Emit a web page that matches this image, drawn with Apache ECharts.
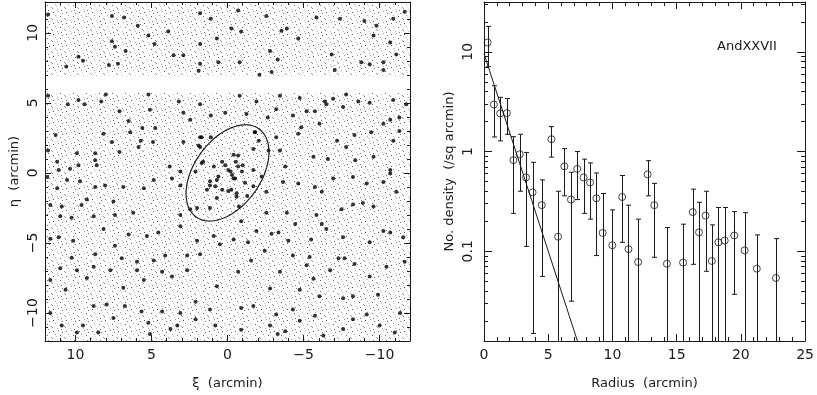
<!DOCTYPE html>
<html>
<head>
<meta charset="utf-8">
<script src="https://cdn.jsdelivr.net/npm/echarts@6/dist/echarts.min.js"></script>
<style>
html,body{margin:0;padding:0;background:#fff}
#main{width:817px;height:395px}
</style>
</head>
<body>
<div id="main"></div>
<script>
// AndXXVII - star map (left) and radial density profile (right)
var FONT = 'DejaVu Sans';
var INK = '#1a1a1a';

// ---- left panel: star map (xi, eta in arcmin) ----
var xiTicks = [10, 5, 0, -5, -10];
var etaTicks = [-10, -5, 0, 5, 10];
var mapMinor = [-11,-9,-8,-7,-6,-4,-3,-2,-1,1,2,3,4,6,7,8,9,11];
// eta bands covered by the survey (faint stars fill these)
var coverBands = [[-12, 5.7], [6.9, 12.2]];
// brighter stars [xi, eta]
var brightStars = [
  [11.8,11.3],[7.6,11.2],[6.8,11.1],[5.9,10.5],[5.2,9.8],[7.6,9.4],[4.8,9.2],[3.9,10.1],[1.8,11.4],[1.1,11.0],
  [1.8,9.2],[0.7,9.6],[7.4,9.0],[6.7,8.7],[9.8,8.3],[9.5,8.0],[3.55,8.4],[2.9,8.4],[1.8,7.8],[0.6,7.9],
  [7.8,7.7],[7.2,7.8],[10.6,7.6],[1.9,7.3],[11.8,5.5],[9.8,5.2],[8.0,5.6],[8.3,5.1],[5.2,5.6],[10.5,4.9],
  [9.4,4.9],[3.2,5.1],[1.8,4.9],[5.1,4.5],[7.1,4.4],[2.9,4.3],[1.1,4.1],[6.5,3.7],[4.75,3.2],[5.6,3.2],
  [2.45,3.8],[0.15,4.3],[11.3,2.7],[8.15,2.8],[7.6,2.2],[6.4,2.9],[1.8,2.55],[5.7,2.3],[4.9,2.2],[2.9,2.2],
  [1.1,2.55],[11.8,1.6],[9.9,1.4],[8.7,1.4],[5.85,1.85],[7.1,1.5],[1.8,1.85],[8.7,0.9],[11.2,0.8],[9.8,0.55],
  [8.6,0.55],[3.8,0.45],[2.1,0.1],[1.7,0.7],[0.9,0.45],[10.35,0.3],[11.1,0.2],[3.1,0.1],
  [-0.7,11.6],[-0.26,10.3],[-0.9,10.1],[-3.55,10.15],[-3.9,10.3],[-5.85,11.1],[-7.4,11.0],[-2.55,11.2],[-9.0,10.85],[-9.8,10.5],
  [-10.9,11.0],[-11.65,11.5],[-9.6,9.8],[-4.65,9.6],[-2.8,8.7],[-3.3,8.1],[-0.8,7.9],[-6.85,8.45],[-8.8,7.9],[-9.35,7.75],
  [-10.25,7.9],[-10.25,7.35],[-11.1,8.45],[-10.7,9.3],[-2.1,7.0],[-2.9,7.2],[-7.05,7.35],[-0.8,5.5],[-3.45,5.5],[-1.9,5.1],
  [-4.75,5.35],[-6.4,5.1],[-6.95,5.3],[-7.8,5.6],[-8.6,5.1],[-3.2,4.55],[-5.2,4.4],[-6.5,4.9],[-7.6,4.7],[-9.35,5.0],
  [-10.9,5.2],[-11.75,4.9],[-1.25,4.2],[-2.65,3.95],[-4.3,4.1],[-5.75,4.4],[-10.7,3.8],[-11.3,3.95],[-4.85,3.25],[-6.05,3.5],
  [-10.25,3.5],[-1.8,2.9],[-4.65,2.8],[-3.2,2.55],[-3.45,1.6],[-7.2,2.3],[-8.35,2.7],[-9.45,2.9],[-7.8,1.85],[-5.65,1.15],
  [-6.6,1.0],[-11.3,3.0],[-10.9,2.3],[-0.4,1.3],[-0.7,0.45],[-1.0,0.55],[-1.7,1.7],[-9.6,1.15],[-10.7,0.2],[-8.4,0.9],
  [-3.8,0.45],[-1.7,0.2],
  [11.85,-0.3],[11.2,-1.1],[10.55,-0.5],[9.7,-0.6],[8.7,-1.0],[8.05,-0.9],[6.85,-1.0],[5.5,-1.1],[4.85,-0.5],[3.65,-0.4],
  [3.1,-0.9],[1.15,-0.9],[0.7,-0.5],[9.25,-1.9],[11.65,-2.3],[10.9,-2.4],[9.6,-2.3],[7.5,-2.05],[7.4,-3.0],[6.2,-2.85],
  [3.1,-3.0],[2.0,-2.5],[11.0,-3.1],[10.25,-3.2],[8.8,-3.1],[6.5,-4.4],[5.3,-4.5],[4.55,-4.25],[11.65,-4.7],[11.1,-4.6],
  [10.15,-4.85],[8.15,-4.0],[3.1,-3.8],[2.0,-4.85],[0.9,-4.5],[0.5,-5.1],[7.4,-5.2],[8.7,-5.8],[10.25,-6.05],[6.95,-6.1],
  [5.95,-6.35],[4.85,-6.25],[4.1,-5.9],[2.65,-5.9],[1.8,-5.8],[9.25,-7.5],[11.0,-6.8],[9.9,-6.95],[8.8,-6.7],[7.7,-6.95],
  [5.95,-6.95],[5.5,-7.65],[4.3,-7.05],[3.65,-7.4],[2.65,-6.95],[0.7,-8.1],[6.85,-8.2],[11.65,-7.65],[10.65,-8.35],[7.95,-9.4],
  [8.8,-9.5],[6.75,-9.5],[5.65,-9.9],[4.3,-9.9],[3.1,-10.0],[2.1,-9.2],[1.15,-9.75],[11.65,-10.0],[10.9,-10.9],[9.5,-10.9],
  [7.5,-10.35],[5.2,-10.7],[3.3,-10.9],[2.1,-10.45],[0.8,-10.9],[8.5,-11.4],[5.1,-11.5],[3.75,-11.15],[9.9,-11.4],
  [-0.25,-1.2],[-0.6,-1.7],[-2.55,-1.35],[-3.65,-0.65],[-4.65,-0.75],[-5.75,-1.0],[-6.2,-1.35],[-6.95,-0.4],[-8.25,-0.3],[-9.15,-0.75],
  [-10.25,-0.65],[-10.7,-0.05],[-11.1,-1.35],[-0.5,-0.4],[-8.25,-2.25],[-8.9,-2.15],[-9.6,-2.4],[-7.5,-2.6],[-5.85,-3.0],[-3.9,-2.85],
  [-2.55,-2.85],[-0.9,-3.45],[-4.45,-3.65],[-6.2,-3.65],[-6.5,-4.0],[-2.9,-4.35],[-3.35,-4.25],[-0.4,-4.75],[-1.9,-4.15],[-4.0,-4.85],
  [-5.5,-4.75],[-7.6,-4.6],[-10.25,-4.15],[-10.7,-4.25],[-11.55,-4.6],[-9.35,-4.95],[-1.35,-4.95],[-2.45,-5.55],[-1.55,-6.25],[-4.3,-5.9],
  [-5.4,-6.0],[-3.45,-7.05],[-5.2,-6.6],[-6.75,-6.95],[-7.3,-6.1],[-7.7,-6.1],[-8.35,-6.5],[-9.35,-7.4],[-10.45,-6.7],[-11.65,-6.35],
  [-0.7,-7.05],[-5.65,-7.55],[-2.8,-8.25],[-4.75,-8.35],[-6.05,-8.8],[-7.6,-8.95],[-8.25,-8.8],[-9.9,-8.7],[-0.9,-9.65],[-1.7,-9.5],
  [-3.2,-10.1],[-4.3,-9.75],[-5.75,-10.2],[-9.15,-10.1],[-8.25,-10.45],[-11.35,-10.0],[-2.8,-10.9],[-3.8,-11.3],[-4.75,-10.55],[-7.6,-11.15],
  [-10.0,-10.9],[-11.0,-11.4],[-3.3,-11.5],[-0.9,-11.2],[-6.3,-11.6],
  [-0.7,1.25],[-0.55,0.8],[-0.05,0.2],[-0.2,0.1],[-0.3,-0.15],[0.15,0.55],[0.35,0.8],[-0.95,0.1],[-0.4,-0.4],[0.6,-0.25],
  [0.8,-0.95],[1.15,-0.6],[-1.15,-0.7],[0.35,-1.2],[-0.05,-1.3],[-0.6,-1.45],[-1.3,-1.65],[1.9,1.95],[1.7,2.55],[-1.8,2.9],
  [-2.7,1.6],[-2.05,2.3],[0.7,-1.8],[1.15,-2.5],[-0.75,-2.4],[1.35,-1.2],[-1.7,-0.95],[1.6,0.8],[-2.25,-0.25],[2.45,-2.6]
];
// half-light ellipse
var ellCentre = [0, 0];
var ellA = 3.77, ellB = 2.24, ellTilt = 30.8; // arcmin, arcmin, deg

// ---- right panel: radial profile ----
var radius  = [0.28,0.77,1.26,1.78,2.29,2.78,3.27,3.78,4.5,5.25,5.77,6.26,6.77,7.26,7.75,8.26,8.75,9.24,9.99,10.76,
               11.25,12.0,12.74,13.26,14.24,15.5,16.25,16.74,17.25,17.74,18.25,18.74,19.49,20.29,21.24,22.73];
var density = [12.4,2.96,2.41,2.43,0.82,0.94,0.55,0.39,0.29,1.33,0.14,0.71,0.33,0.67,0.55,0.49,0.34,0.153,0.115,0.35,
               0.105,0.078,0.59,0.29,0.075,0.077,0.247,0.155,0.228,0.080,0.123,0.128,0.144,0.102,0.067,0.054];
var errHi   = [18,4.57,3.5,3.4,1.41,1.49,0.98,0.78,0.52,1.78,0.40,1.07,0.62,1.0,0.84,0.77,0.61,0.38,0.26,0.575,
               0.29,0.21,0.81,0.48,0.173,0.187,0.42,0.31,0.40,0.184,0.275,0.275,0.25,0.244,0.146,0.134];
// 0 = lower end runs off the bottom of the plot
var errLo   = [7.1,1.40,1.28,1.49,0.24,0.40,0.112,0.015,0.056,0.88,0,0.36,0.0316,0.33,0.24,0.21,0.0906,0,0,0.123,
               0,0,0.36,0.087,0,0,0.074,0,0.063,0,0,0,0.037,0,0,0];
var fitLine = [[0, 9.6], [8, 0.0065]];
var rTicks = [0, 5, 10, 15, 20, 25];
var rMinor = [1,2,3,4,6,7,8,9,11,12,13,14,16,17,18,19,21,22,23,24];
var denTicks = [0.1, 1, 10];
var denMinor = [0.02,0.03,0.04,0.05,0.06,0.07,0.08,0.09,0.2,0.3,0.4,0.5,0.6,0.7,0.8,0.9,2,3,4,5,6,7,8,9,20,30];
var denMin = 0.0126, denMax = 31.6;

var lg = function (v) { return Math.log10(v); };
var minus = function (v) { return String(v).replace('-', '\u2212'); };

// speckle texture standing in for the faint stars
function faintTile() {
  var c = document.createElement('canvas');
  c.width = 13; c.height = 11;
  var g = c.getContext('2d');
  g.fillStyle = '#fff'; g.fillRect(0, 0, 13, 11);
  [[1,1,'#555'],[6,0,'#999'],[10,2,'#777'],[3,4,'#aaa'],[8,5,'#666'],[12,7,'#999'],
   [0,8,'#888'],[5,9,'#bbb'],[9,10,'#777'],[4,6,'#ccc']].forEach(function (p) {
    g.fillStyle = p[2]; g.fillRect(p[0], p[1], 1, 1);
  });
  return c;
}

function tickAxis(grid, pos, min, max, ticks, len, extra) {
  var a = {
    type: 'value', gridIndex: grid, position: pos, min: min, max: max, z: 10,
    splitLine: {show: false},
    axisLine: {show: len > 4, onZero: false, lineStyle: {color: INK, width: 1}},
    axisTick: {show: true, inside: true, length: len, customValues: ticks, lineStyle: {color: INK, width: 1}},
    axisLabel: {show: false}
  };
  return Object.assign(a, extra || {});
}
var lblStyle = {show: true, color: INK, fontFamily: FONT, fontSize: 14};

var xAxes = [
  tickAxis(0, 'bottom', -12, 12, xiTicks, 6, {inverse: true,
    axisLabel: Object.assign({customValues: xiTicks, margin: 7, formatter: minus}, lblStyle),
    name: '\u03be  (arcmin)', nameLocation: 'middle', nameGap: 36,
    nameTextStyle: {color: INK, fontFamily: FONT, fontSize: 13}}),
  tickAxis(0, 'top', -12, 12, xiTicks, 6, {inverse: true}),
  tickAxis(0, 'bottom', -12, 12, mapMinor, 3, {inverse: true}),
  tickAxis(0, 'top', -12, 12, mapMinor, 3, {inverse: true}),
  tickAxis(1, 'bottom', 0, 25, rTicks, 7, {
    axisLabel: Object.assign({customValues: rTicks, margin: 7}, lblStyle),
    name: 'Radius  (arcmin)', nameLocation: 'middle', nameGap: 36,
    nameTextStyle: {color: INK, fontFamily: FONT, fontSize: 13}}),
  tickAxis(1, 'top', 0, 25, rTicks, 7),
  tickAxis(1, 'bottom', 0, 25, rMinor, 4),
  tickAxis(1, 'top', 0, 25, rMinor, 4)
];

var yAxes = [
  tickAxis(0, 'left', -12, 12.2, etaTicks, 6, {
    axisLabel: Object.assign({customValues: etaTicks, margin: 5, rotate: 90, formatter: minus}, lblStyle),
    name: '\u03b7  (arcmin)', nameLocation: 'middle', nameGap: 24,
    nameTextStyle: {color: INK, fontFamily: FONT, fontSize: 13}}),
  tickAxis(0, 'right', -12, 12.2, etaTicks, 6),
  tickAxis(0, 'left', -12, 12.2, mapMinor, 3),
  tickAxis(0, 'right', -12, 12.2, mapMinor, 3),
  tickAxis(1, 'left', lg(denMin), lg(denMax), denTicks.map(lg), 8, {
    axisLabel: Object.assign({customValues: denTicks.map(lg), margin: 9, rotate: 90,
      formatter: function (v) { return String(denTicks[Math.round(v) + 1]); }}, lblStyle),
    name: 'No. density  (/sq arcmin)', nameLocation: 'middle', nameGap: 28,
    nameTextStyle: {color: INK, fontFamily: FONT, fontSize: 13}}),
  tickAxis(1, 'right', lg(denMin), lg(denMax), denTicks.map(lg), 8),
  tickAxis(1, 'left', lg(denMin), lg(denMax), denMinor.map(lg), 4),
  tickAxis(1, 'right', lg(denMin), lg(denMax), denMinor.map(lg), 4)
];

var tile = faintTile();
var profile = radius.map(function (r, i) { return [r, lg(density[i])]; });
var bars = radius.map(function (r, i) {
  return [r, lg(errHi[i]), errLo[i] > 0 ? lg(errLo[i]) : -99];
});

var option = {
  animation: false,
  backgroundColor: '#fff',
  grid: [
    {left: 45, top: 2, width: 365, height: 342},
    {left: 484, top: 2, width: 324, height: 342}
  ],
  xAxis: xAxes,
  yAxis: yAxes,
  graphic: [{
    type: 'text', left: 717, top: 40,
    style: {text: 'AndXXVII', font: '13px "DejaVu Sans"', fill: INK}
  }],
  series: [
    {
      type: 'custom', xAxisIndex: 0, yAxisIndex: 0, clip: true, z: 1,
      data: coverBands,
      renderItem: function (params, api) {
        var p1 = api.coord([12, api.value(1)]);
        var p2 = api.coord([-12, api.value(0)]);
        return {type: 'rect',
          shape: {x: p1[0], y: p1[1], width: p2[0] - p1[0], height: p2[1] - p1[1]},
          style: {fill: {image: tile, repeat: 'repeat'}}};
      }
    },
    {
      type: 'scatter', xAxisIndex: 0, yAxisIndex: 0, z: 2,
      symbol: 'circle', symbolSize: 4, data: brightStars,
      itemStyle: {color: '#000'}
    },
    {
      type: 'custom', xAxisIndex: 0, yAxisIndex: 0, z: 3,
      data: [ellCentre],
      renderItem: function (params, api) {
        var cx = api.value(0), cy = api.value(1);
        var t0 = ellTilt * Math.PI / 180;
        var pts = [];
        for (var k = 0; k <= 90; k++) {
          var t = k / 90 * 2 * Math.PI;
          var u = ellA * Math.cos(t), w = ellB * Math.sin(t);
          // major axis towards -xi / +eta
          var xi = cx - u * Math.sin(t0) - w * Math.cos(t0);
          var eta = cy + u * Math.cos(t0) - w * Math.sin(t0);
          pts.push(api.coord([xi, eta]));
        }
        return {type: 'polyline', shape: {points: pts},
          style: {fill: null, stroke: '#222', lineWidth: 1.2}};
      }
    },
    {
      type: 'custom', xAxisIndex: 4, yAxisIndex: 4, clip: true, z: 3,
      data: bars,
      renderItem: function (params, api) {
        var top = api.coord([api.value(0), api.value(1)]);
        var low = api.value(2);
        var cs = params.coordSys;
        var bot = low > -50 ? api.coord([api.value(0), low]) : [top[0], cs.y + cs.height + 4];
        var x = Math.round(top[0]) + 0.5;
        var kids = [
          {type: 'line', shape: {x1: x, y1: top[1], x2: x, y2: bot[1]}, style: {stroke: INK, lineWidth: 1}},
          {type: 'line', shape: {x1: x - 2.5, y1: top[1], x2: x + 2.5, y2: top[1]}, style: {stroke: INK, lineWidth: 1}}
        ];
        if (low > -50) {
          kids.push({type: 'line', shape: {x1: x - 2.5, y1: bot[1], x2: x + 2.5, y2: bot[1]}, style: {stroke: INK, lineWidth: 1}});
        }
        return {type: 'group', children: kids};
      }
    },
    {
      type: 'line', xAxisIndex: 4, yAxisIndex: 4, z: 3,
      data: fitLine.map(function (p) { return [p[0], lg(p[1])]; }),
      symbol: 'none', clip: true,
      lineStyle: {color: INK, width: 1}
    },
    {
      type: 'scatter', xAxisIndex: 4, yAxisIndex: 4, z: 4,
      symbol: 'circle', symbolSize: 7, data: profile,
      itemStyle: {color: 'rgba(0,0,0,0)', borderColor: INK, borderWidth: 1}
    }
  ]
};

var chart = echarts.init(document.getElementById('main'), null, {renderer: 'canvas'});
chart.setOption(option);
</script>
</body>
</html>
